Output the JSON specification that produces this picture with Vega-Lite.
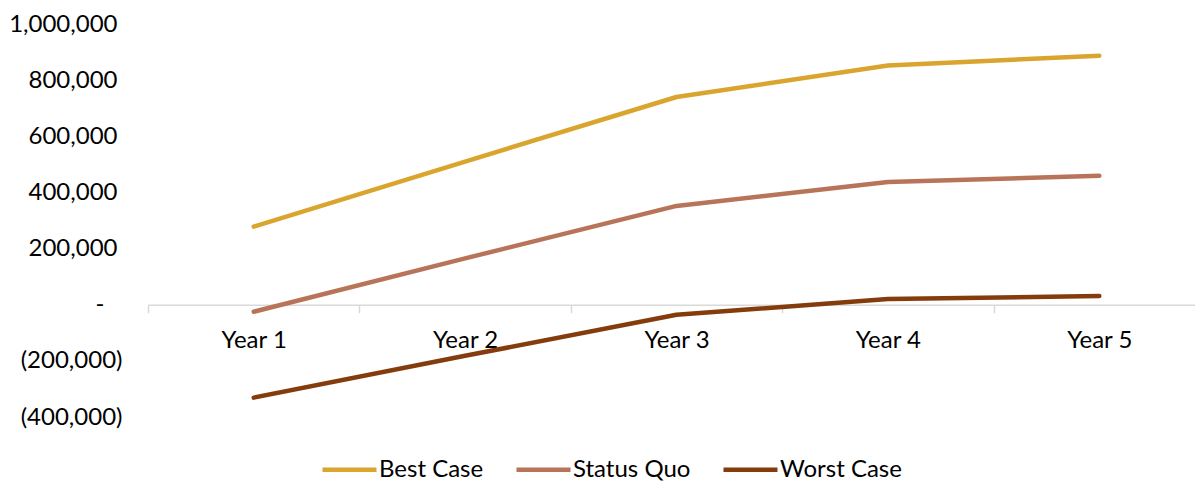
{
  "$schema": "https://vega.github.io/schema/vega-lite/v6.json",
  "autosize": {"type": "none"},
  "padding": {"left": 148, "top": 24, "right": 0, "bottom": 65},
  "width": 1047,
  "height": 393,
  "background": "white",
  "config": {"view": {"stroke": null}, "font": "Lato"},
  "data": {"values": [
    {"year": "Year 1", "scenario": "Best Case", "value": 278000},
    {"year": "Year 2", "scenario": "Best Case", "value": 510000},
    {"year": "Year 3", "scenario": "Best Case", "value": 740000},
    {"year": "Year 4", "scenario": "Best Case", "value": 852000},
    {"year": "Year 5", "scenario": "Best Case", "value": 887000},
    {"year": "Year 1", "scenario": "Status Quo", "value": -25000},
    {"year": "Year 2", "scenario": "Status Quo", "value": 165000},
    {"year": "Year 3", "scenario": "Status Quo", "value": 352000},
    {"year": "Year 4", "scenario": "Status Quo", "value": 437000},
    {"year": "Year 5", "scenario": "Status Quo", "value": 459000},
    {"year": "Year 1", "scenario": "Worst Case", "value": -331000},
    {"year": "Year 2", "scenario": "Worst Case", "value": -182000},
    {"year": "Year 3", "scenario": "Worst Case", "value": -36000},
    {"year": "Year 4", "scenario": "Worst Case", "value": 20000},
    {"year": "Year 5", "scenario": "Worst Case", "value": 31000}
  ]},
  "mark": {"type": "line", "strokeWidth": 4.5, "strokeCap": "round", "strokeJoin": "round"},
  "encoding": {
    "x": {
      "field": "year", "type": "nominal", "bandPosition": 0.5,
      "scale": {"type": "band", "paddingInner": 0, "paddingOuter": 0, "range": [0, 1057]},
      "axis": {
        "title": null, "offset": -112.3, "labelAngle": 0,
        "domainColor": "#d9d9d9", "domainWidth": 1.5,
        "tickColor": "#d9d9d9", "tickWidth": 1.5, "tickSize": 8, "tickBand": "extent",
        "labelFontSize": 24, "labelColor": "#000000", "labelPadding": 16, "labelFont": "Lato"
      }
    },
    "y": {
      "field": "value", "type": "quantitative",
      "scale": {"domain": [-400000, 1000000], "nice": false, "zero": false},
      "axis": {
        "title": null, "domain": false, "ticks": false, "grid": false,
        "values": [-400000, -200000, 0, 200000, 400000, 600000, 800000, 1000000],
        "labelExpr": "datum.value == 0 ? '-' : (datum.value < 0 ? '(' + format(-datum.value, ',') + ')' : format(datum.value, ','))",
        "labelFontSize": 24, "labelColor": "#000000", "labelFont": "Lato",
        "labelPadding": {"condition": [{"test": "datum.value < 0", "value": 26}, {"test": "datum.value == 0", "value": 44}], "value": 31}
      }
    },
    "color": {
      "field": "scenario", "type": "nominal",
      "scale": {"domain": ["Best Case", "Status Quo", "Worst Case"], "range": ["#DAA52E", "#B87458", "#843C0C"]},
      "legend": {
        "title": null, "orient": "none", "direction": "horizontal",
        "legendX": 172, "legendY": 416,
        "symbolType": "stroke", "symbolSize": 2916, "symbolStrokeWidth": 4.5,
        "labelFontSize": 24, "labelColor": "#000000", "labelOffset": 0, "columnPadding": 23,
        "labelFont": "Lato"
      }
    }
  }
}
